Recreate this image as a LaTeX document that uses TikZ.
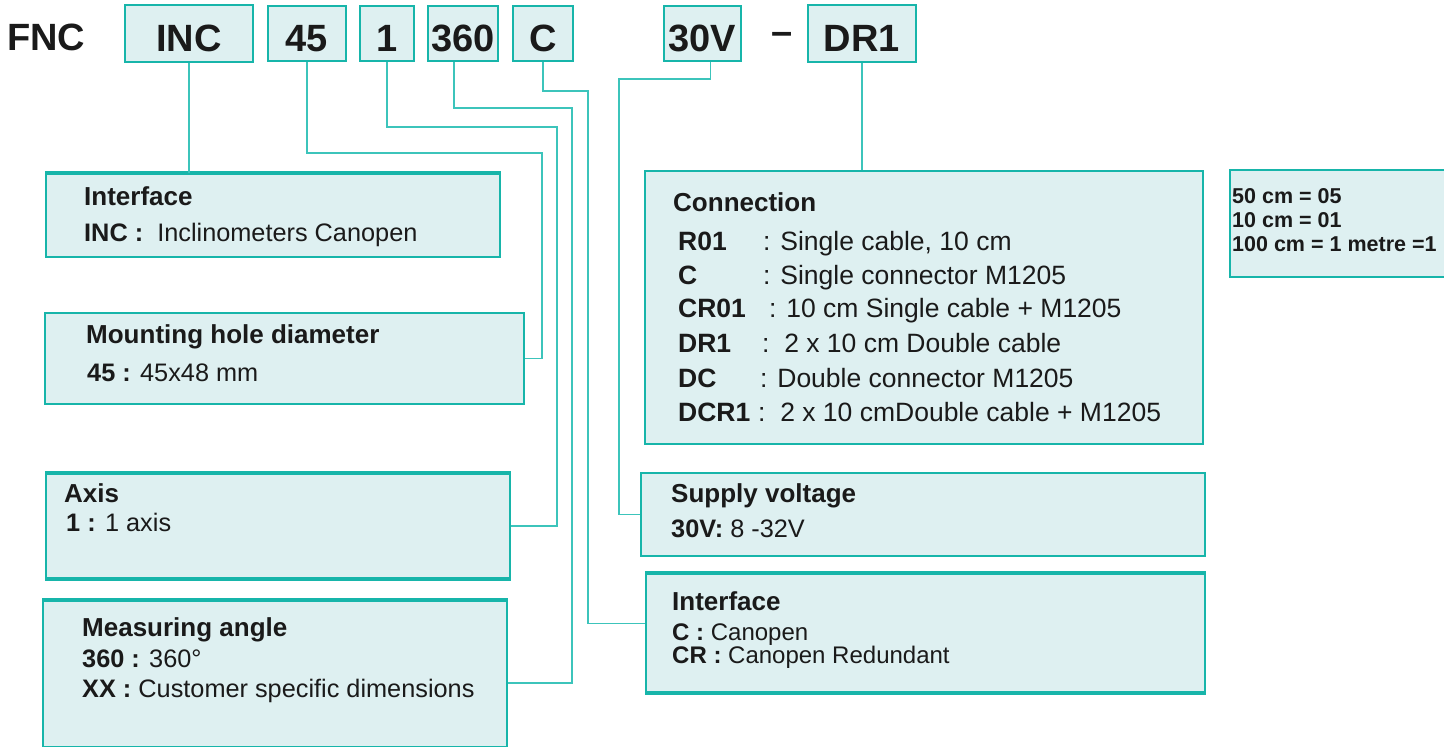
\documentclass[tikz,border=0pt]{standalone}
\usepackage{fontspec}
\setmainfont{Liberation Sans}
\usetikzlibrary{positioning, calc}
\definecolor{boxline}{HTML}{17B5AA}
\definecolor{wirecol}{HTML}{3CC4BB}
\definecolor{boxfill}{HTML}{DEF0F1}
\definecolor{ink}{HTML}{1A1A1A}
\tikzstyle{code} = [rectangle, draw=boxline, fill=boxfill, line width=2pt, inner sep=0pt, text height=35pt, text depth=0pt, text=ink, font=\bfseries\fontsize{38}{40}\selectfont]
\tikzstyle{infobox} = [rectangle, draw=boxline, fill=boxfill, line width=2pt, inner sep=0pt, anchor=north west]
\tikzstyle{txt} = [anchor=base west, inner sep=0pt, text=ink, font=\fontsize{25.3}{30}\selectfont]
\tikzstyle{keyt} = [txt, font=\bfseries\fontsize{26.5}{30}\selectfont]
\tikzstyle{rowt} = [txt, font=\fontsize{26.5}{30}\selectfont]
\tikzstyle{head} = [txt, font=\bfseries\fontsize{26}{30}\selectfont]
\tikzstyle{note} = [txt, font=\bfseries\fontsize{21.5}{24}\selectfont]
\tikzstyle{wire} = [draw=wirecol, line width=1.5pt]
\tikzstyle{rim} = [draw=boxline, line width=4pt]
\begin{document}
\begin{tikzpicture}[x=1pt, y=-1pt]
\useasboundingbox (0,0) rectangle (1444,747);

% order code
\node(fnc)[anchor=base west, inner sep=0pt, text=ink, font=\bfseries\fontsize{38}{40}\selectfont] at (7,50) {FNC};
\node(inc)[code, minimum width=128pt, minimum height=57pt, anchor=north west] at (124,4) {INC};
\node(b45)[code, minimum width=78pt, minimum height=55pt, right=13pt of inc] {45};
\node(b1)[code, minimum width=54pt, minimum height=55pt, right=12pt of b45] {1};
\node(b360)[code, minimum width=70pt, minimum height=55pt, right=12pt of b1] {360};
\node(bc)[code, minimum width=60pt, minimum height=55pt, right=13pt of b360] {C};
\node(b30v)[code, minimum width=77pt, minimum height=55pt, right=89pt of bc] {30V};
\node(dr1)[code, minimum width=108pt, minimum height=57pt, right=65pt of b30v] {DR1};
\node(dash)[anchor=base, inner sep=0pt, text=ink, font=\bfseries\fontsize{38}{40}\selectfont] at (782,44.5) {–};

% boxes
\node(ifc)[infobox, minimum width=454pt, minimum height=83pt] at (45,173) {};
\node(mnt)[infobox, minimum width=479pt, minimum height=91pt] at (44,312) {};
\node(axis)[infobox, minimum width=464pt, minimum height=104pt] at (45,473) {};
\node(meas)[infobox, minimum width=464pt, minimum height=146pt] at (42,600) {};
\node(con)[infobox, minimum width=558pt, minimum height=273pt] at (644,170) {};
\node(sup)[infobox, minimum width=564pt, minimum height=83pt] at (640,472) {};
\node(ifc2)[infobox, minimum width=559pt, minimum height=118pt] at (645,573) {};
\node(notes)[infobox, minimum width=222pt, minimum height=107pt] at (1229,169) {};

\draw[rim] (ifc.north west) -- (ifc.north east);
\draw[rim] (axis.north west) -- (axis.north east);
\draw[rim] (axis.south west) -- (axis.south east);
\draw[rim] (meas.north west) -- (meas.north east);
\draw[rim] (ifc2.north west) -- (ifc2.north east);
\draw[rim] (ifc2.south west) -- (ifc2.south east);

% texts
\node(ifct)[head] at (84,205) {Interface};
\node(ifcl)[txt] at (84,241) {\textbf{INC :}\ \ Inclinometers Canopen};
\node(mntt)[head] at (86,343) {Mounting hole diameter};
\node(mntl)[txt] at (87,381) {\textbf{45 :} 45x48 mm};
\node(axist)[head] at (64,502) {Axis};
\node(axisl)[txt] at (66,531) {\textbf{1 :} 1 axis};
\node(meast)[head] at (82,636) {Measuring angle};
\node(measl)[txt] at (82,667) {\textbf{360 :} 360°};
\node(measx)[txt] at (82,697) {\textbf{XX :} Customer specific dimensions};
\node(cont)[head] at (673,211) {Connection};
\foreach \yy/\key/\cx/\val [count=\i] in {250/R01/763/{: Single cable, 10 cm},
  284/C/763/{: Single connector M1205},
  317/CR01/769/{: 10 cm Single cable + M1205},
  352/DR1/762/{:\ \ 2 x 10 cm Double cable},
  387/DC/760/{: Double connector M1205},
  421/DCR1/758/{:\ \ 2 x 10 cmDouble cable + M1205}}{
  \node(ck\i)[keyt] at (678,\yy) {\key};
  \node(cv\i)[rowt] at (\cx,\yy) {\val};
}
\node(supt)[head] at (671,502) {Supply voltage};
\node(supl)[txt] at (671,537) {\textbf{30V:} 8 -32V};
\node(ifc2t)[head] at (672,610) {Interface};
\node(ifc2c)[txt, font=\fontsize{24}{28}\selectfont] at (672,640) {\textbf{C :} Canopen};
\node(ifc2r)[txt, font=\fontsize{24}{28}\selectfont] at (672,663) {\textbf{CR :} Canopen Redundant};
\node(note1)[note] at (1232,203) {50 cm = 05};
\node(note2)[note] at (1232,227) {10 cm = 01};
\node(note3)[note] at (1232,251) {100 cm = 1 metre =1};

% connectors
\coordinate (k45) at (542,153);
\coordinate (k1) at (557,127);
\coordinate (k360) at (572,108);
\coordinate (kc) at (588,91);
\coordinate (k30) at (619,79);
\draw[wire] (inc.south) -- (inc.south |- ifc.north);
\draw[wire] (b45.south) |- (k45) |- (mnt.east);
\draw[wire] (b1.south) |- (k1) |- (axis.east);
\draw[wire] ($(b360.south)+(-9,0)$) |- (k360) |- ($(meas.north east)!0.56!(meas.south east)$);
\draw[wire] (bc.south) |- (kc) |- ($(ifc2.north west)!0.42!(ifc2.south west)$);
\draw[wire] ($(b30v.south)+(8,0)$) |- (k30) |- (sup.west);
\draw[wire] (dr1.south) -- (dr1.south |- con.north);
\end{tikzpicture}
\end{document}
